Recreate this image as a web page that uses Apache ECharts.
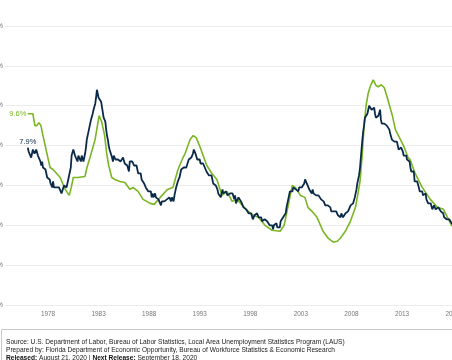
<!DOCTYPE html>
<html>
<head>
<meta charset="utf-8">
<script src="https://cdn.jsdelivr.net/npm/echarts@6/dist/echarts.min.js"></script>
<style>
html,body{margin:0;padding:0;overflow:hidden;background:#fff;}
#c{width:520px;height:360px;}
</style>
</head>
<body>
<div id="c"></div>
<script>
// Tick labels (years) and y ticks
var yearTicks = [1978, 1983, 1988, 1993, 1998, 2003, 2008, 2013, 2018];
// U.S. monthly unemployment rate, starting January 1976
var usStart = 1976;
var usRates = [
7.9,7.7,7.6,7.7,7.4,7.6,7.8,7.8,7.6,7.7,7.8,7.8,
7.5,7.6,7.4,7.2,7.0,7.2,6.9,7.0,6.8,6.8,6.8,6.4,
6.4,6.3,6.3,6.1,6.0,5.9,6.2,5.9,6.0,5.8,5.9,6.0,
5.9,5.9,5.8,5.8,5.6,5.7,5.7,6.0,5.9,6.0,5.9,6.0,
6.3,6.3,6.3,6.9,7.5,7.6,7.8,7.7,7.5,7.5,7.5,7.2,
7.5,7.4,7.4,7.2,7.5,7.5,7.2,7.4,7.6,7.9,8.3,8.5,
8.6,8.9,9.0,9.3,9.4,9.6,9.8,9.8,10.1,10.4,10.8,10.8,
10.4,10.4,10.3,10.2,10.1,10.1,9.4,9.5,9.2,8.8,8.5,8.3,
8.0,7.8,7.8,7.7,7.4,7.2,7.5,7.5,7.3,7.4,7.2,7.3,
7.3,7.2,7.2,7.3,7.2,7.4,7.4,7.1,7.1,7.1,7.0,7.0,
6.7,7.2,7.2,7.1,7.2,7.2,7.0,6.9,7.0,7.0,6.9,6.6,
6.6,6.6,6.6,6.3,6.3,6.2,6.1,6.0,5.9,6.0,5.8,5.7,
5.7,5.7,5.7,5.4,5.6,5.4,5.4,5.6,5.4,5.4,5.3,5.3,
5.4,5.2,5.0,5.2,5.2,5.3,5.2,5.2,5.3,5.3,5.4,5.4,
5.4,5.3,5.2,5.4,5.4,5.2,5.5,5.7,5.9,5.9,6.2,6.3,
6.4,6.6,6.8,6.7,6.9,6.9,6.8,6.9,6.9,7.0,7.0,7.3,
7.3,7.4,7.4,7.4,7.6,7.8,7.7,7.6,7.6,7.3,7.4,7.4,
7.3,7.1,7.0,7.1,7.1,7.0,6.9,6.8,6.7,6.8,6.6,6.5,
6.6,6.6,6.5,6.4,6.1,6.1,6.1,6.0,5.9,5.8,5.6,5.5,
5.6,5.4,5.4,5.8,5.6,5.6,5.7,5.7,5.6,5.5,5.6,5.6,
5.6,5.5,5.5,5.6,5.6,5.3,5.5,5.1,5.2,5.2,5.4,5.4,
5.3,5.2,5.2,5.1,4.9,5.0,4.9,4.8,4.9,4.7,4.6,4.7,
4.6,4.6,4.7,4.3,4.4,4.5,4.5,4.5,4.6,4.5,4.4,4.4,
4.3,4.4,4.2,4.3,4.2,4.3,4.3,4.2,4.2,4.1,4.1,4.0,
4.0,4.1,4.0,3.8,4.0,4.0,4.0,4.1,3.9,3.9,3.9,3.9,
4.2,4.2,4.3,4.4,4.3,4.5,4.6,4.9,5.0,5.3,5.5,5.7,
5.7,5.7,5.7,5.9,5.8,5.8,5.8,5.7,5.7,5.7,5.9,6.0,
5.8,5.9,5.9,6.0,6.1,6.3,6.2,6.1,6.1,6.0,5.8,5.7,
5.7,5.6,5.8,5.6,5.6,5.6,5.5,5.4,5.4,5.5,5.4,5.4,
5.3,5.4,5.2,5.2,5.1,5.0,5.0,4.9,5.0,5.0,5.0,4.9,
4.7,4.8,4.7,4.7,4.6,4.6,4.7,4.7,4.5,4.4,4.5,4.4,
4.6,4.5,4.4,4.5,4.4,4.6,4.7,4.6,4.7,4.7,4.7,5.0,
5.0,4.9,5.1,5.0,5.4,5.6,5.8,6.1,6.1,6.5,6.8,7.3,
7.8,8.3,8.7,9.0,9.4,9.5,9.5,9.6,9.8,10.0,9.9,9.9,
9.8,9.8,9.9,9.9,9.6,9.4,9.4,9.5,9.5,9.4,9.8,9.3,
9.1,9.0,9.0,9.1,9.0,9.1,9.0,9.0,9.0,8.8,8.6,8.5,
8.3,8.3,8.2,8.2,8.2,8.2,8.2,8.0,7.8,7.8,7.7,7.9,
8.0,7.7,7.5,7.6,7.5,7.5,7.3,7.2,7.2,7.2,6.9,6.7,
6.6,6.7,6.7,6.2,6.3,6.1,6.2,6.1,5.9,5.7,5.8,5.6,
5.7,5.5,5.4,5.4,5.6,5.3,5.2,5.1,5.0,5.0,5.1,5.0,
4.8,4.9,5.0,5.1,4.8,4.9,4.8,4.9,5.0,4.9,4.7,4.7,
4.7,4.6,4.4,4.4,4.4,4.3,4.3,4.4,4.3,4.2,4.2,4.1,
4.0,4.1,4.0,4.0,3.8,4.0,3.8,3.8,3.7,3.8,3.8,3.9
];
// Florida rate (decimal year, percent)
var flYears = [1976.0,1976.5,1976.7,1976.9,1977.1,1977.3,1977.5,1977.85,1978.2,1978.5,1978.85,1979.2,1979.7,1980.1,1980.3,1980.5,1980.95,1981.65,1981.85,1982.15,1982.65,1983.05,1983.3,1983.6,1983.8,1984.0,1984.3,1984.6,1985.1,1985.6,1986.1,1986.4,1986.9,1987.4,1988.1,1988.5,1989.1,1989.8,1990.35,1990.85,1991.35,1991.55,1992.05,1992.35,1992.65,1993.05,1993.7,1994.2,1994.7,1995.2,1995.7,1996.2,1996.7,1997.2,1997.8,1998.3,1998.8,1999.45,2000.15,2000.95,2001.35,2001.75,2002.15,2002.45,2002.95,2003.4,2003.7,2004.1,2004.6,2005.2,2005.7,2006.2,2006.6,2006.9,2007.4,2007.9,2008.4,2008.65,2008.85,2009.05,2009.25,2009.45,2009.65,2009.85,2010.15,2010.45,2010.65,2010.95,2011.25,2011.55,2012.05,2012.35,2012.85,2013.15,2013.6,2013.8,2014.3,2015.0,2015.8,2016.5,2017.1,2017.5,2017.9,2018.3];
var flRates = [9.6,9.6,9.0,9.0,9.15,9.0,8.5,7.7,6.9,6.8,6.6,6.4,5.8,5.5,5.9,6.4,6.4,6.45,6.9,7.4,8.3,9.5,9.2,8.5,7.6,7.0,6.4,6.3,6.2,6.15,5.8,5.9,5.7,5.3,5.1,5.05,5.4,5.8,5.9,6.8,7.4,7.6,8.3,8.5,8.4,7.9,7.0,6.6,6.3,5.5,5.7,5.2,5.3,5.0,4.7,4.5,4.4,4.0,3.75,3.7,4.0,5.0,6.0,5.9,5.5,5.4,4.9,4.7,4.4,3.7,3.35,3.15,3.2,3.35,3.7,4.2,4.9,5.6,6.2,7.4,9.0,10.0,10.6,10.95,11.3,11.0,10.95,11.05,10.9,10.4,9.5,8.8,8.3,8.0,7.4,7.3,6.6,5.9,5.3,4.9,4.8,4.4,4.0,3.8];

var NAVY = '#0b2a4a', GREEN = '#7ab623';
var FONT = '"Liberation Sans", Arial, sans-serif';

var usData = usRates.map(function (v, i) { return [usStart + i / 12, v]; });
var flData = flYears.map(function (y, i) { return [y, flRates[i]]; });

function firstLabel(pairs, color, pos) {
  return {
    symbol: 'circle', symbolSize: 1, silent: true,
    itemStyle: {color: 'rgba(0,0,0,0)'},
    label: {show: true, position: pos, distance: 1, color: color,
      fontFamily: FONT, fontSize: 7.5,
      formatter: function (d) { return Number(d.value).toFixed(1) + '%'; }},
    data: [{coord: pairs[0], value: pairs[0][1]}]
  };
}

var chart = echarts.init(document.getElementById('c'), null, {renderer: 'canvas'});
chart.setOption({
  animation: false,
  grid: {left: 5, right: 27, top: 26, bottom: 55, containLabel: false, outerBoundsMode: 'none'},
  xAxis: {
    type: 'value', min: 1973.745, max: 2022,
    axisLine: {show: false}, axisTick: {show: false}, splitLine: {show: false},
    axisLabel: {customValues: yearTicks, color: '#777', fontFamily: FONT, fontSize: 6.4, margin: 6,
      hideOverlap: false,
      formatter: function (v) { return String(Math.round(v)); }}
  },
  yAxis: {
    type: 'value', min: 0, max: 14, interval: 2,
    axisLine: {show: false}, axisTick: {show: false},
    splitLine: {lineStyle: {color: '#ececec', width: 1}},
    axisLabel: {color: '#777', fontFamily: FONT, fontSize: 6.4, margin: 2, align: 'right',
      formatter: '{value}%'}
  },
  series: [
    {type: 'line', name: 'Florida', data: flData,
      symbol: 'none', lineStyle: {color: GREEN, width: 1.6}, itemStyle: {color: GREEN}, z: 2,
      markPoint: firstLabel(flData, GREEN, 'left')},
    {type: 'line', name: 'United States', data: usData,
      symbol: 'none', lineStyle: {color: NAVY, width: 1.8}, itemStyle: {color: NAVY}, z: 3,
      markPoint: firstLabel(usData, NAVY, 'top')}
  ],
  graphic: [
    {type: 'rect', shape: {x: 1.5, y: 329.5, width: 600, height: 60},
      style: {fill: '#fff', stroke: '#c8c8c8', lineWidth: 1}},
    {type: 'text', x: 6, y: 342, style: {text: 'Source: U.S. Department of Labor, Bureau of Labor Statistics, Local Area Unemployment Statistics Program (LAUS)',
      font: '6.6px ' + FONT, fill: '#222', verticalAlign: 'middle'}},
    {type: 'text', x: 6, y: 350, style: {text: 'Prepared by: Florida Department of Economic Opportunity, Bureau of Workforce Statistics & Economic Research',
      font: '6.6px ' + FONT, fill: '#222', verticalAlign: 'middle'}},
    {type: 'text', x: 6, y: 358, style: {text: '{b|Released:} August 21, 2020 | {b|Next Release:} September 18, 2020',
      font: '6.6px ' + FONT, fill: '#222', verticalAlign: 'middle',
      rich: {b: {fontWeight: 'bold', fontSize: 6.6, fontFamily: FONT, fill: '#111'}}}}
  ]
});
</script>
</body>
</html>
